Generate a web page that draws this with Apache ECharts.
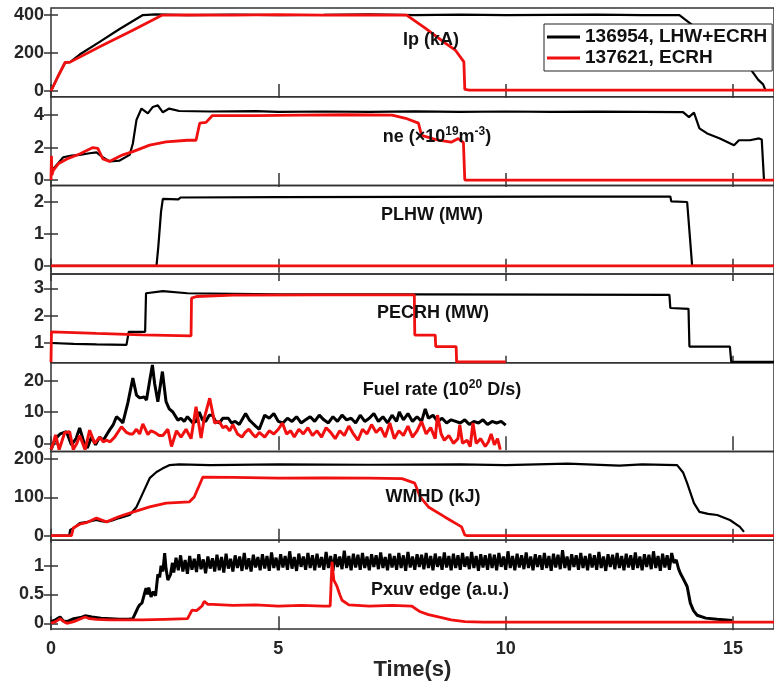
<!DOCTYPE html>
<html><head><meta charset="utf-8">
<script src="https://cdn.jsdelivr.net/npm/echarts@6/dist/echarts.min.js"></script>
<style>html,body{margin:0;padding:0;background:#fff}#c{width:774px;height:689px}</style>
</head><body><div id="c"></div>
<script>
// ---------------- DATA ----------------
const nameBlack = '136954, LHW+ECRH';
const nameRed = '137621, ECRH';
const xTicks = [0, 5, 10, 15];

const ipTicks = [0, 200, 400];
const ipBlack = [[0,0],[0.04,0],[0.15,75],[0.31,150],[0.42,152],[0.63,192],[1.07,259],[1.5,325],[2.02,400],[2.3,403],[3,400],[4,402],[5,400],[6,401],[7,403],[8,400],[9,402],[10,400],[11,401],[12,402],[13,400],[13.82,400],[14.5,275],[15.0,185],[15.4,110],[15.55,60],[15.66,35],[15.72,0]];
const ipRed = [[0,0],[0.04,0],[0.15,75],[0.31,150],[0.42,152],[1.07,233],[1.8,320],[2.45,400],[3,401],[4,400],[5,402],[6,400],[7,401],[7.82,400],[8.23,331],[8.67,252],[8.89,216],[9.08,153],[9.1,8],[9.2,5],[15.9,5]];

const neTicks = [0, 2, 4];
const neBlack = [[0,0.5],[0.05,0.7],[0.1,0.85],[0.27,1.4],[0.45,1.5],[0.63,1.55],[0.85,1.65],[1.0,1.7],[1.14,1.4],[1.29,1.15],[1.51,1.2],[1.73,1.55],[1.8,2.25],[1.88,3.7],[1.99,4.4],[2.13,4.1],[2.24,4.5],[2.35,4.6],[2.46,4.17],[2.6,4.4],[2.82,4.25],[3.5,4.22],[4.5,4.24],[5,4.2],[6,4.22],[7,4.2],[8,4.23],[9,4.2],[10,4.22],[11,4.19],[12,4.21],[13,4.2],[13.9,4.18],[14.03,3.87],[14.14,4.15],[14.26,3.18],[14.43,2.87],[14.71,2.56],[15.02,2.14],[15.13,2.45],[15.37,2.45],[15.57,2.56],[15.63,2.5],[15.68,0]];
const neRed = [[0,0],[0.01,1.5],[0.02,0.3],[0.05,0.6],[0.16,1.0],[0.35,1.3],[0.63,1.6],[0.92,2.0],[1.03,1.95],[1.14,1.3],[1.29,1.15],[1.58,1.55],[1.8,1.75],[2.17,2.15],[2.53,2.35],[3.0,2.45],[3.19,2.45],[3.27,3.5],[3.41,3.55],[3.55,3.97],[4.5,3.97],[5.5,4.0],[6.5,4.02],[7.5,4.0],[7.8,3.8],[8.08,3.5],[8.15,2.75],[8.52,2.45],[8.8,2.33],[8.96,2.55],[9.07,2.3],[9.1,0],[15.9,0]];

const plhwTicks = [0, 1, 2];
const plhwBlack = [[0,0],[2.32,0],[2.36,0.6],[2.42,1.7],[2.46,2.1],[2.8,2.08],[2.85,2.14],[5,2.15],[8,2.16],[11,2.17],[13.62,2.17],[13.64,2.02],[13.99,2.0],[14.1,0],[15.9,0]];
const plhwRed = [[0,0],[5,0],[10,0],[15.9,0]];

const pecrhTicks = [1, 2, 3];
const pecrhBlack = [[0,1.0],[0.5,0.97],[1.0,0.95],[1.66,0.93],[1.71,1.41],[2.07,1.41],[2.09,2.82],[2.46,2.9],[3,2.82],[5,2.78],[8,2.78],[11,2.77],[13.6,2.76],[13.62,2.28],[14.02,2.25],[14.04,0.87],[14.93,0.87],[14.96,0.31],[15.9,0.31]];
const pecrhRed = [[0,0.3],[0.01,1.41],[0.05,1.38],[1,1.35],[2,1.3],[3.08,1.26],[3.09,2.64],[3.2,2.7],[4,2.75],[6,2.76],[7.99,2.76],[8.0,1.29],[8.45,1.29],[8.46,0.87],[8.91,0.87],[8.92,0.31],[10.0,0.31]];

const fuelTicks = [0, 10, 20];
const fuelBlack = [[0,-2],[0.1,1.5],[0.2,3],[0.34,3.7],[0.45,-0.5],[0.55,1.5],[0.63,4.9],[0.72,0.5],[0.8,-1.5],[0.89,2],[0.98,-0.5],[1.07,2],[1.15,1],[1.29,4.3],[1.37,6],[1.44,8.5],[1.52,7.5],[1.58,6.5],[1.69,12.9],[1.8,20.8],[1.88,15.4],[1.95,14.5],[2.05,14.8],[2.1,13.8],[2.17,20],[2.23,25],[2.28,19],[2.35,13.3],[2.45,22.9],[2.53,13.3],[2.6,11],[2.68,10],[2.79,7.4],[2.86,8],[2.93,7],[3.0,8.5],[3.04,9],[3.12,6.5],[3.19,7],[3.26,10],[3.33,7.5],[3.4,7],[3.48,9],[3.55,9],[3.62,7],[3.7,6.5],[3.78,8],[3.9,8],[3.97,6.5],[4.05,7],[4.14,6],[4.22,8],[4.28,9.5],[4.36,7.5],[4.43,6.5],[4.5,5.5],[4.58,4.5],[4.7,9],[4.8,8],[4.9,9.5],[5.0,7],[5.1,6.5],[5.2,8],[5.3,7],[5.4,8.5],[5.5,6.5],[5.6,7.5],[5.7,8.5],[5.8,7],[5.9,9],[6.0,7.5],[6.1,6.5],[6.2,8.5],[6.3,7],[6.4,9],[6.5,7.5],[6.6,8],[6.7,6.5],[6.8,9],[6.9,7],[7.0,8],[7.1,9.5],[7.2,7],[7.3,8.5],[7.4,6.5],[7.5,9],[7.6,7],[7.66,10],[7.75,7.5],[7.85,9.5],[7.95,7],[8.05,8.5],[8.15,7],[8.23,11],[8.3,8],[8.4,9],[8.5,7],[8.6,8],[8.7,6.5],[8.8,7.5],[8.9,7],[9.0,6.5],[9.1,7.5],[9.2,6],[9.3,7],[9.4,6.5],[9.5,7.5],[9.6,6],[9.7,7],[9.8,6.5],[9.9,7],[10.0,5.8]];
const fuelRed = [[0,-2],[0.05,0],[0.1,2.7],[0.18,-2],[0.3,3.4],[0.41,3.7],[0.49,-2],[0.57,0],[0.63,2.5],[0.75,-2],[0.85,4.2],[0.96,0],[1.07,2],[1.15,0.5],[1.22,1],[1.3,0.5],[1.4,2],[1.55,5.3],[1.66,3.5],[1.73,3],[1.8,3],[1.88,4.5],[1.95,3],[2.02,6.2],[2.13,2.8],[2.2,4],[2.28,3.5],[2.38,2.5],[2.46,2.5],[2.57,4.5],[2.65,-1],[2.76,4],[2.86,2],[2.97,4.5],[3.08,1.5],[3.19,11.7],[3.3,1.7],[3.37,8],[3.49,14.4],[3.6,6.5],[3.7,7],[3.78,5],[3.85,5.5],[3.93,4],[4.0,6],[4.1,3],[4.2,2],[4.27,3.5],[4.35,4.5],[4.43,3],[4.5,2],[4.58,3.5],[4.7,2],[4.8,4],[4.9,3],[5.0,4.5],[5.09,6.5],[5.18,3],[5.27,4],[5.35,2],[5.45,4.5],[5.55,3],[5.65,5],[5.75,2.5],[5.85,4],[5.95,2],[6.05,5],[6.15,3.5],[6.25,1.5],[6.35,4],[6.45,2.5],[6.55,5.5],[6.65,3],[6.75,1],[6.85,4.5],[6.95,3],[7.05,6],[7.15,3.5],[7.25,5],[7.35,2],[7.45,6.5],[7.55,1.5],[7.65,4],[7.75,2.5],[7.85,5.5],[7.95,2],[8.05,4],[8.15,7],[8.25,3],[8.35,5],[8.45,1.5],[8.5,9],[8.58,3],[8.65,1],[8.75,2.5],[8.85,0],[8.95,1.5],[8.99,5.9],[9.05,0],[9.15,1],[9.22,-1],[9.28,6.5],[9.35,0],[9.45,1.5],[9.55,-1],[9.62,0.5],[9.68,3],[9.75,-0.5],[9.82,1.5],[9.88,-2]];

const wmhdTicks = [0, 100, 200];
const wmhdBlack = [[0,0],[0.4,0],[0.42,15],[0.5,20],[0.63,33],[0.8,36],[1.0,41],[1.1,38],[1.22,36],[1.35,40],[1.5,46],[1.73,54],[1.88,75],[2.02,111],[2.17,150],[2.32,166],[2.45,175],[2.6,184],[2.82,186],[3.5,184],[5,186],[7,185],[9,186],[10,184],[11.36,188],[12.5,183],[13,186],[13.77,184],[13.9,165],[13.99,137],[14.14,85],[14.26,62],[14.45,57],[14.65,54],[14.93,41],[15.15,23],[15.24,10]];
const wmhdRed = [[0,0],[0.45,0],[0.49,20],[0.63,30],[0.8,35],[1.0,46],[1.22,36],[1.5,50],[1.73,59],[2.17,75],[2.53,85],[3.04,88],[3.15,101],[3.34,153],[4,152],[5,150],[6,151],[7,150],[7.72,149],[8.0,137],[8.12,101],[8.3,75],[8.66,49],[9.03,23],[9.1,2],[9.15,0],[15.9,0]];

const pxuvTicks = [0, 0.5, 1];
const pxuvBlackRise = [[0,0.03],[0.1,0.06],[0.2,0.11],[0.27,0.04],[0.35,0.03],[0.5,0.08],[0.65,0.1],[0.75,0.13],[0.9,0.11],[1.1,0.09],[1.3,0.08],[1.5,0.07],[1.7,0.07],[1.8,0.08],[1.91,0.27],[1.95,0.32],[2.0,0.35],[2.05,0.5],[2.09,0.61],[2.12,0.5],[2.15,0.62],[2.2,0.46],[2.25,0.55],[2.3,0.48],[2.35,0.85],[2.39,0.8],[2.42,1.0],[2.46,0.9],[2.5,1.22],[2.53,0.95],[2.57,0.75],[2.6,0.73],[2.63,0.85],[2.67,1.05]];
const pxuvBandStart = 2.70, pxuvBandStep = 0.05;
const pxuvBlackBand = [
0.88,1.14,0.92,1.18,0.90,1.10,0.86,1.17,0.93,1.12,0.89,1.20,0.94,1.11,0.87,1.16,0.95,1.13,0.90,1.19,
0.92,1.15,0.88,1.21,0.95,1.12,0.90,1.18,0.96,1.16,0.91,1.22,0.94,1.13,0.90,1.19,0.97,1.15,0.92,1.20,
0.95,1.17,0.91,1.23,0.96,1.14,0.92,1.20,0.97,1.17,0.93,1.25,0.95,1.15,0.91,1.21,0.98,1.16,0.93,1.22,
0.96,1.18,0.92,1.21,0.97,1.15,0.93,1.24,0.96,1.17,0.91,1.20,0.98,1.16,0.94,1.26,0.96,1.17,0.92,1.21,
0.97,1.19,0.93,1.22,0.96,1.16,0.92,1.20,0.98,1.18,0.94,1.23,0.96,1.15,0.92,1.21,0.97,1.17,0.93,1.22,
0.96,1.18,0.91,1.24,0.97,1.16,0.93,1.20,0.98,1.19,0.94,1.22,0.96,1.17,0.92,1.21,0.98,1.16,0.93,1.23,
0.97,1.17,0.92,1.21,0.96,1.18,0.93,1.22,0.98,1.16,0.94,1.24,0.96,1.17,0.91,1.20,0.97,1.18,0.93,1.21,
0.96,1.19,0.92,1.22,0.98,1.16,0.93,1.25,0.96,1.17,0.92,1.21,0.97,1.18,0.94,1.23,0.96,1.16,0.92,1.20,
0.98,1.18,0.93,1.22,0.96,1.17,0.91,1.21,0.97,1.19,0.94,1.27,0.96,1.16,0.92,1.20,0.98,1.18,0.93,1.22,
0.96,1.17,0.92,1.21,0.97,1.18,0.93,1.24,0.96,1.16,0.91,1.20,0.98,1.19,0.94,1.22,0.96,1.17,0.92,1.21,
0.97,1.18,0.93,1.23,0.96,1.16,0.92,1.20,0.98,1.19,0.94,1.25,0.96,1.17,0.91,1.21,0.97,1.18,0.93,1.22,
1.05];
const pxuvBlackFall = [[13.75,1.1],[13.8,0.95],[13.84,0.87],[13.9,0.78],[13.99,0.64],[14.06,0.35],[14.13,0.22],[14.21,0.14],[14.4,0.09],[14.65,0.07],[14.98,0.05]];
const pxuvRed = [[0,0],[0.1,0.03],[0.2,0.08],[0.3,0.02],[0.35,0.0],[0.5,0.03],[0.75,0.11],[0.85,0.08],[1.0,0.07],[1.3,0.06],[2,0.06],[2.5,0.07],[3.0,0.08],[3.05,0.15],[3.1,0.23],[3.2,0.22],[3.26,0.26],[3.32,0.3],[3.37,0.38],[3.45,0.33],[3.55,0.33],[4,0.31],[4.5,0.32],[5,0.3],[5.5,0.31],[6.0,0.3],[6.14,0.3],[6.18,1.07],[6.22,0.75],[6.29,0.64],[6.35,0.5],[6.4,0.4],[6.55,0.32],[7,0.3],[7.5,0.31],[7.93,0.3],[8.12,0.2],[8.3,0.15],[8.52,0.11],[8.8,0.06],[9.1,0.03],[9.5,0.02],[15.9,0.02]];

// ---------------- BUILD ----------------
const pxuvBlack = pxuvBlackRise
  .concat(pxuvBlackBand.map((v, i) => [+(pxuvBandStart + i * pxuvBandStep).toFixed(2), v]))
  .concat(pxuvBlackFall);

const FONT = '"Liberation Sans", Arial, sans-serif';
const panels = [
  {b: ipBlack, r: ipRed, min: -30, max: 437, ticks: ipTicks, t: 'Ip (kA)', tx: 431, ty: 40},
  {b: neBlack, r: neRed, min: -0.33, max: 5.13, ticks: neTicks, t: 'ne (×10{s|19}m{s|-3})', tx: 437, ty: 137},
  {b: plhwBlack, r: plhwRed, min: -0.26, max: 2.52, ticks: plhwTicks, t: 'PLHW (MW)', tx: 432, ty: 215},
  {b: pecrhBlack, r: pecrhRed, min: 0.276, max: 3.52, ticks: pecrhTicks, t: 'PECRH (MW)', tx: 433, ty: 313},
  {b: fuelBlack, r: fuelRed, min: -2.6, max: 25.7, ticks: fuelTicks, t: 'Fuel rate (10{s|20} D/s)', tx: 442, ty: 390, lw: 3},
  {b: wmhdBlack, r: wmhdRed, min: -11.7, max: 219.6, ticks: wmhdTicks, t: 'WMHD (kJ)', tx: 433, ty: 497},
  {b: pxuvBlack, r: pxuvRed, min: -0.097, max: 1.443, ticks: pxuvTicks, t: 'Pxuv edge (a.u.)', tx: 440, ty: 590, lwb: 3}
];

const top0 = 8, ph = 88.7, xMax = 15.9;
const grid = [], xAxis = [], yAxis = [], series = [], graphic = [];
const tickStyle = {show: true, inside: true, length: 7, lineStyle: {color: '#333', width: 1.5}};
const labStyle = {color: '#262626', fontSize: 18, fontWeight: 'bold', fontFamily: FONT};
const RED = '#f01010';

panels.forEach((p, i) => {
  grid.push({left: 51, right: -3, top: top0 + i * ph, height: ph, show: true, borderColor: '#333', borderWidth: 1.5});
  const last = i === panels.length - 1;
  xAxis.push({gridIndex: i, type: 'value', min: 0, max: xMax, position: 'bottom',
    axisLine: {show: false}, splitLine: {show: false},
    axisTick: Object.assign({customValues: xTicks}, tickStyle),
    axisLabel: Object.assign({show: last, customValues: xTicks, margin: 11}, labStyle),
    name: last ? 'Time(s)' : '', nameLocation: 'middle', nameGap: 30,
    nameTextStyle: {color: '#262626', fontSize: 22, fontWeight: 'bold', fontFamily: FONT}});
  xAxis.push({gridIndex: i, type: 'value', min: 0, max: xMax, position: 'top',
    axisLine: {show: false}, splitLine: {show: false},
    axisTick: Object.assign({customValues: xTicks}, tickStyle), axisLabel: {show: false}});
  yAxis.push({gridIndex: i, type: 'value', min: p.min, max: p.max, position: 'left',
    axisLine: {show: false}, splitLine: {show: false},
    axisTick: Object.assign({customValues: p.ticks}, tickStyle),
    axisLabel: Object.assign({customValues: p.ticks, margin: 7}, labStyle)});
  yAxis.push({gridIndex: i, type: 'value', min: p.min, max: p.max, position: 'right',
    axisLine: {show: false}, splitLine: {show: false},
    axisTick: Object.assign({customValues: p.ticks}, tickStyle), axisLabel: {show: false}});
  series.push({name: nameBlack, type: 'line', xAxisIndex: 2 * i, yAxisIndex: 2 * i, data: p.b,
    symbol: 'none', showSymbol: false, color: '#000', lineStyle: {color: '#000', width: p.lwb || p.lw || 2.2}, animation: false});
  series.push({name: nameRed, type: 'line', xAxisIndex: 2 * i, yAxisIndex: 2 * i, data: p.r,
    symbol: 'none', showSymbol: false, color: RED, lineStyle: {color: RED, width: p.lw || 2.8}, animation: false});
  graphic.push({type: 'text', x: p.tx, y: p.ty, z: 100,
    style: {text: p.t, fill: '#111', align: 'center', verticalAlign: 'middle',
      font: 'bold 18px ' + FONT, lineHeight: 22,
      rich: {s: {fontSize: 12, fontWeight: 'bold', fontFamily: FONT, verticalAlign: 'top', lineHeight: 22, fill: '#111', padding: [0, 0, 8, 0]}}}});
});

const chart = echarts.init(document.getElementById('c'), null, {renderer: 'canvas'});
chart.setOption({
  animation: false,
  backgroundColor: '#fff',
  grid, xAxis, yAxis, series, graphic,
  legend: {data: [nameBlack, nameRed], orient: 'vertical', left: 544, top: 24,
    backgroundColor: '#fff', borderColor: '#222', borderWidth: 1, padding: [3, 5, 3, 3], itemGap: 1,
    icon: 'rect', itemWidth: 33, itemHeight: 3,
    textStyle: {color: '#111', fontSize: 19, fontWeight: 'bold', fontFamily: FONT, lineHeight: 20}}
});
</script></body></html>
